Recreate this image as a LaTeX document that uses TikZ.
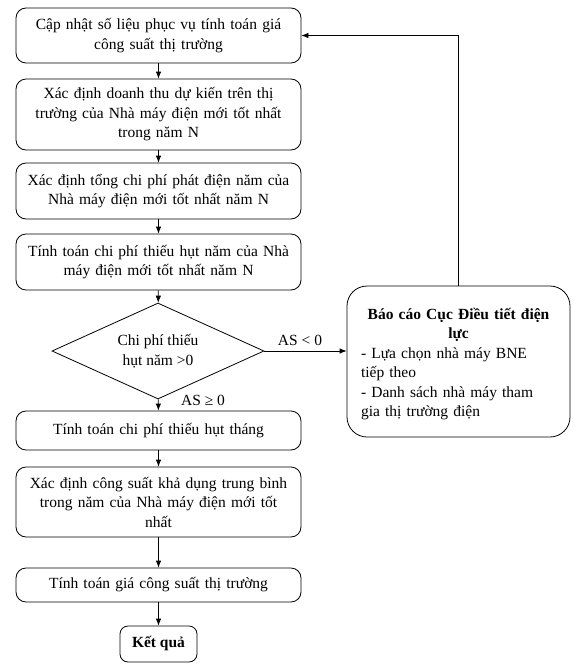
\documentclass[tikz,border=0pt]{standalone}
\usepackage{fontspec}
\setmainfont{Liberation Serif}
\usetikzlibrary{shapes.geometric,arrows.meta}
\begin{document}
\begin{tikzpicture}[x=1pt,y=-1pt,
  font=\fontsize{15.5}{19.5}\selectfont,
  every path/.style={line width=0.8pt},
  proc/.style={draw,rounded corners=10pt,align=center,inner sep=0pt,
    minimum width=285pt,text width=280pt},
  arr/.style={-{Latex[length=7pt,width=5.5pt]}},
  lbl/.style={inner sep=1pt}]
\useasboundingbox (0,0) rectangle (576,672);
\node[proc,minimum height=55pt] (b1) at (158.5,35.5) {Cập nhật số liệu phục vụ tính toán giá\\công suất thị trường};
\node[proc,minimum height=71pt] (b2) at (158.5,114.5) {Xác định doanh thu dự kiến trên thị\\trường của Nhà máy điện mới tốt nhất\\trong năm N};
\node[proc,minimum height=56pt] (b3) at (158.5,191) {Xác định tổng chi phí phát điện năm của\\Nhà máy điện mới tốt nhất năm N};
\node[proc,minimum height=56pt] (b4) at (158.5,262) {Tính toán chi phí thiếu hụt năm của Nhà\\máy điện mới tốt nhất năm N};
\node[draw,diamond,aspect=2.2,inner sep=0pt,minimum width=212pt,minimum height=96pt,align=center] (d) at (158,351) {Chi phí thiếu\\hụt năm >0};
\node[proc,minimum height=39pt] (b6) at (158.5,430.5) {Tính toán chi phí thiếu hụt tháng};
\node[proc,minimum height=70pt] (b7) at (158.5,502) {Xác định công suất khả dụng trung bình\\trong năm của Nhà máy điện mới tốt\\nhất};
\node[proc,minimum height=34pt] (b8) at (158.5,585) {Tính toán giá công suất thị trường};
\node[draw,rounded corners=8pt,minimum width=77pt,minimum height=36pt,inner sep=0pt] (b9) at (158.5,644) {\textbf{Kết quả}};
\node[draw,rounded corners=20pt,minimum width=223pt,minimum height=151pt,inner sep=0pt] (b5) at (458.5,361.5) {};
\node[text width=195pt,align=left,inner sep=0pt] (t5) at (458.5,364) {{\centering\textbf{Báo cáo Cục Điều tiết điện\\lực}\par}- Lựa chọn nhà máy BNE\\tiếp theo\\- Danh sách nhà máy tham\\gia thị trường điện};
\draw[arr] (b1) -- (b2);
\draw[arr] (b2) -- (b3);
\draw[arr] (b3) -- (b4);
\draw[arr] (b4) -- (d);
\draw[arr] (d) -- (b6);
\draw[arr] (b6) -- (b7);
\draw[arr] (b7) -- (b8);
\draw[arr] (b8) -- (b9);
\draw[arr] (d.east) -- (d.east -| b5.west);
\draw[arr] (b5.north) |- (b1.east);
\node[lbl] (l1) at (300,340) {AS < 0};
\node[lbl] (l2) at (203,400) {AS ≥ 0};
\end{tikzpicture}
\end{document}
